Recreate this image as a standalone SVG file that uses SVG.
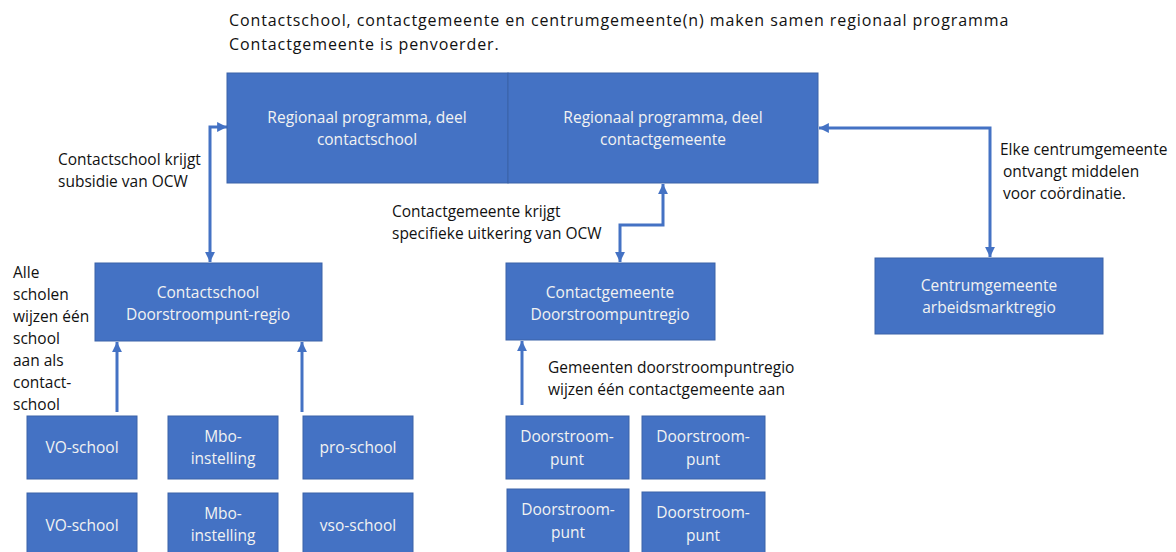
<svg xmlns="http://www.w3.org/2000/svg" width="1176" height="552" viewBox="0 0 1176 552">
<style>
.box{fill:#4472C4;stroke:#3A62A8;stroke-width:1}
.bt{font-family:"Open Sans","Liberation Sans",sans-serif;font-size:15.5px;fill:#F2F2F2;text-anchor:middle}
.lt{font-family:"Open Sans","Liberation Sans",sans-serif;font-size:15.5px;fill:#111}
.tt{font-family:"Open Sans","Liberation Sans",sans-serif;font-size:16px;letter-spacing:0.9px;fill:#111}
.con{fill:none;stroke:#4472C4;stroke-width:3}
</style>
<defs>
<marker id="ah" viewBox="0 0 10 10" refX="10" refY="5" markerWidth="3.3" markerHeight="3.3" orient="auto-start-reverse" markerUnits="strokeWidth">
<path d="M0,0 L10,5 L0,10 z" fill="#4472C4"/>
</marker>
</defs>
<rect width="1176" height="552" fill="#FFFFFF"/>
<g id="title">
<text class="tt" x="229" y="26">Contactschool, contactgemeente en centrumgemeente(n) maken samen regionaal programma</text>
<text class="tt" x="229" y="50">Contactgemeente is penvoerder.</text>
</g>
<g id="connectors">
<path class="con" d="M210,262 V127 H227" marker-start="url(#ah)" marker-end="url(#ah)"/>
<path class="con" d="M620,262 V225 H663 V184" marker-start="url(#ah)" marker-end="url(#ah)"/>
<path class="con" d="M819,128 H990 V257" marker-start="url(#ah)" marker-end="url(#ah)"/>
<path class="con" d="M117,412 V342" marker-end="url(#ah)"/>
<path class="con" d="M302,412 V342" marker-end="url(#ah)"/>
<path class="con" d="M522,405 V341" marker-end="url(#ah)"/>
</g>
<g id="prog-contactschool">
<rect class="box" x="227" y="73" width="281" height="110"/>
<text class="bt" x="367" y="123">Regionaal programma, deel</text>
<text class="bt" x="367" y="145">contactschool</text>
</g>
<g id="prog-contactgemeente">
<rect class="box" x="508" y="73" width="310" height="110"/>
<text class="bt" x="663" y="123">Regionaal programma, deel</text>
<text class="bt" x="663" y="145">contactgemeente</text>
</g>
<g id="label-contactschool">
<text class="lt" x="58" y="165">Contactschool krijgt</text>
<text class="lt" x="58" y="187">subsidie van OCW</text>
</g>
<g id="label-contactgemeente">
<text class="lt" x="392" y="217">Contactgemeente krijgt</text>
<text class="lt" x="392" y="239">specifieke uitkering van OCW</text>
</g>
<g id="label-centrum">
<text class="lt" x="1000" y="155">Elke centrumgemeente</text>
<text class="lt" x="1003" y="177">ontvangt middelen</text>
<text class="lt" x="1003" y="199">voor coördinatie.</text>
</g>
<g id="label-alle">
<text class="lt" x="13" y="278">Alle</text>
<text class="lt" x="13" y="300">scholen</text>
<text class="lt" x="13" y="322">wijzen één</text>
<text class="lt" x="13" y="344">school</text>
<text class="lt" x="13" y="366">aan als</text>
<text class="lt" x="13" y="388">contact-</text>
<text class="lt" x="13" y="410">school</text>
</g>
<g id="label-gemeenten">
<text class="lt" x="548" y="373">Gemeenten doorstroompuntregio</text>
<text class="lt" x="548" y="395">wijzen één contactgemeente aan</text>
</g>
<g id="contactschool">
<rect class="box" x="95" y="263" width="227" height="78"/>
<text class="bt" x="208" y="298">Contactschool</text>
<text class="bt" x="208" y="320">Doorstroompunt-regio</text>
</g>
<g id="contactgemeente">
<rect class="box" x="506" y="263" width="209" height="77"/>
<text class="bt" x="610" y="298">Contactgemeente</text>
<text class="bt" x="610" y="320">Doorstroompuntregio</text>
</g>
<g id="centrumgemeente">
<rect class="box" x="875" y="258" width="228" height="76"/>
<text class="bt" x="989" y="291">Centrumgemeente</text>
<text class="bt" x="989" y="313">arbeidsmarktregio</text>
</g>
<g id="vo-school-1">
<rect class="box" x="27" y="416" width="110" height="63"/>
<text class="bt" x="82" y="453">VO-school</text>
</g>
<g id="mbo-1">
<rect class="box" x="168" y="416" width="110" height="63"/>
<text class="bt" x="223" y="442">Mbo-</text>
<text class="bt" x="223" y="464">instelling</text>
</g>
<g id="pro-school">
<rect class="box" x="303" y="416" width="110" height="63"/>
<text class="bt" x="358" y="453">pro-school</text>
</g>
<g id="vo-school-2">
<rect class="box" x="27" y="493" width="110" height="62"/>
<text class="bt" x="82" y="531">VO-school</text>
</g>
<g id="mbo-2">
<rect class="box" x="168" y="493" width="110" height="62"/>
<text class="bt" x="223" y="519">Mbo-</text>
<text class="bt" x="223" y="541">instelling</text>
</g>
<g id="vso-school">
<rect class="box" x="303" y="493" width="110" height="62"/>
<text class="bt" x="358" y="531">vso-school</text>
</g>
<g id="doorstroompunt-1">
<rect class="box" x="506" y="416" width="123" height="63"/>
<text class="bt" x="567" y="442">Doorstroom-</text>
<text class="bt" x="567" y="465">punt</text>
</g>
<g id="doorstroompunt-2">
<rect class="box" x="642" y="416" width="123" height="63"/>
<text class="bt" x="703" y="442">Doorstroom-</text>
<text class="bt" x="703" y="465">punt</text>
</g>
<g id="doorstroompunt-3">
<rect class="box" x="507" y="489" width="122" height="66"/>
<text class="bt" x="568" y="515">Doorstroom-</text>
<text class="bt" x="568" y="538">punt</text>
</g>
<g id="doorstroompunt-4">
<rect class="box" x="642" y="492" width="123" height="63"/>
<text class="bt" x="703" y="518">Doorstroom-</text>
<text class="bt" x="703" y="541">punt</text>
</g>
</svg>
